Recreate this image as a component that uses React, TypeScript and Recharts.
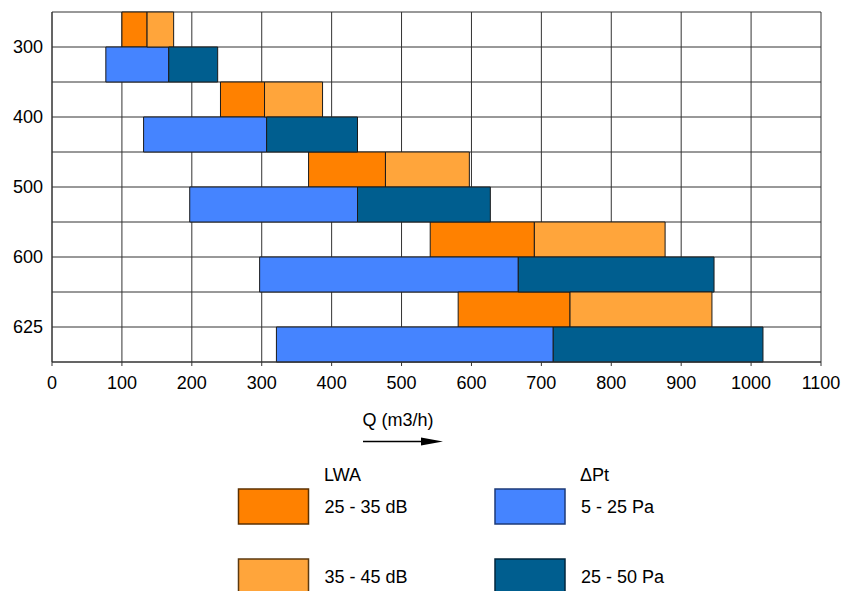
import React from "react";
import { BarChart, Bar, XAxis, YAxis, CartesianGrid, Cell } from "recharts";

// fan sizes, each gets an LWA row (upper) and a ΔPt row (lower)
const sizes = ["300", "400", "500", "600", "625"];

// LWA ranges in m3/h: 25-35 dB from start to mid, 35-45 dB from mid to end
const lwaStart = [100, 241, 367, 541, 581];
const lwaMid = [136, 304, 477, 690, 741];
const lwaEnd = [174, 387, 597, 877, 944];

// ΔPt ranges in m3/h: 5-25 Pa from start to mid, 25-50 Pa from mid to end
const ptStart = [77, 131, 197, 297, 321];
const ptMid = [167, 307, 437, 667, 717];
const ptEnd = [237, 437, 627, 947, 1017];

const xTicks = [0, 100, 200, 300, 400, 500, 600, 700, 800, 900, 1000, 1100];

const ORANGE = "#FF8100";
const LIGHT_ORANGE = "#FFA53B";
const BLUE = "#4584FF";
const DARK_BLUE = "#005E8F";
const FONT = "'Liberation Sans', Arial, sans-serif";

type Row = { key: string; size: string; kind: "lwa" | "pt"; base: number; low: number; high: number };

const rows: Row[] = [];
sizes.forEach((size, i) => {
  rows.push({
    key: `${size}-lwa`,
    size,
    kind: "lwa",
    base: lwaStart[i],
    low: lwaMid[i] - lwaStart[i],
    high: lwaEnd[i] - lwaMid[i],
  });
  rows.push({
    key: `${size}-pt`,
    size,
    kind: "pt",
    base: ptStart[i],
    low: ptMid[i] - ptStart[i],
    high: ptEnd[i] - ptMid[i],
  });
});

// label sits on the line between the LWA row and the ΔPt row
const SizeTick = (props: any) => {
  const { x, y, payload } = props;
  const [size, kind] = String(payload.value).split("-");
  if (kind !== "lwa") return null;
  const half = payload.offset ?? 17.5;
  return (
    <text x={x} y={y + half} dy="0.35em" textAnchor="end" fill="#000" fontSize={18} fontFamily={FONT}>
      {size}
    </text>
  );
};

const boundaryLines = ({ offset }: any) => {
  const step = offset.height / rows.length;
  return Array.from({ length: rows.length + 1 }, (_, i) => offset.top + i * step);
};

const LegendBox = ({ x, y, fill, stroke, label }: { x: number; y: number; fill: string; stroke: string; label: string }) => (
  <g>
    <rect x={x} y={y} width={70} height={35} fill={fill} stroke={stroke} strokeWidth={1.5} />
    <text x={x + 86} y={y + 24} fontSize={18} fontFamily={FONT} fill="#000">
      {label}
    </text>
  </g>
);

const App: React.FC = () => {
  return (
    <div style={{ position: "absolute", left: 0, top: 0, width: 847, height: 591, background: "#fff", overflow: "hidden" }}>
      <BarChart
        width={847}
        height={591}
        data={rows}
        layout="vertical"
        barCategoryGap={0}
        margin={{ top: 12, right: 26, bottom: 189, left: 0 }}
      >
        <CartesianGrid stroke="#333" strokeWidth={1} horizontalCoordinatesGenerator={boundaryLines} />
        <XAxis
          type="number"
          domain={[0, 1100]}
          ticks={xTicks}
          interval={0}
          height={40}
          tickSize={4}
          tickMargin={10}
          axisLine={{ stroke: "#333" }}
          tickLine={{ stroke: "#333" }}
          tick={{ fill: "#000", fontSize: 18, fontFamily: FONT }}
        />
        <YAxis
          type="category"
          dataKey="key"
          width={52}
          interval={0}
          tickSize={0}
          tickMargin={9}
          tickLine={false}
          axisLine={{ stroke: "#333" }}
          tick={<SizeTick />}
        />
        <Bar dataKey="base" stackId="q" fill="none" stroke="none" isAnimationActive={false} />
        <Bar dataKey="low" stackId="q" stroke="#1a1a1a" strokeWidth={1} isAnimationActive={false}>
          {rows.map((r) => (
            <Cell key={`low-${r.key}`} fill={r.kind === "lwa" ? ORANGE : BLUE} />
          ))}
        </Bar>
        <Bar dataKey="high" stackId="q" stroke="#1a1a1a" strokeWidth={1} isAnimationActive={false}>
          {rows.map((r) => (
            <Cell key={`high-${r.key}`} fill={r.kind === "lwa" ? LIGHT_ORANGE : DARK_BLUE} />
          ))}
        </Bar>
      </BarChart>

      {/* axis caption and legend */}
      <svg width={847} height={591} style={{ position: "absolute", left: 0, top: 0, pointerEvents: "none" }}>
        <text x={398} y={426} textAnchor="middle" fontSize={18} fontFamily={FONT} fill="#000">
          Q (m3/h)
        </text>
        <line x1={363} y1={441.5} x2={425} y2={441.5} stroke="#000" strokeWidth={1.5} />
        <polygon points="421,437.5 443,441.5 421,445.5" fill="#000" />

        <text x={324} y={481} fontSize={18} fontFamily={FONT} fill="#000">
          LWA
        </text>
        <text x={580} y={481} fontSize={18} fontFamily={FONT} fill="#000">
          ΔPt
        </text>
        <LegendBox x={238.5} y={489} fill={ORANGE} stroke="#5c3000" label="25 - 35 dB" />
        <LegendBox x={238.5} y={559} fill={LIGHT_ORANGE} stroke="#5c3a10" label="35 - 45 dB" />
        <LegendBox x={495} y={489} fill={BLUE} stroke="#1c3a78" label="5 - 25 Pa" />
        <LegendBox x={495} y={559} fill={DARK_BLUE} stroke="#00263d" label="25 - 50 Pa" />
      </svg>
    </div>
  );
};

export default App;
